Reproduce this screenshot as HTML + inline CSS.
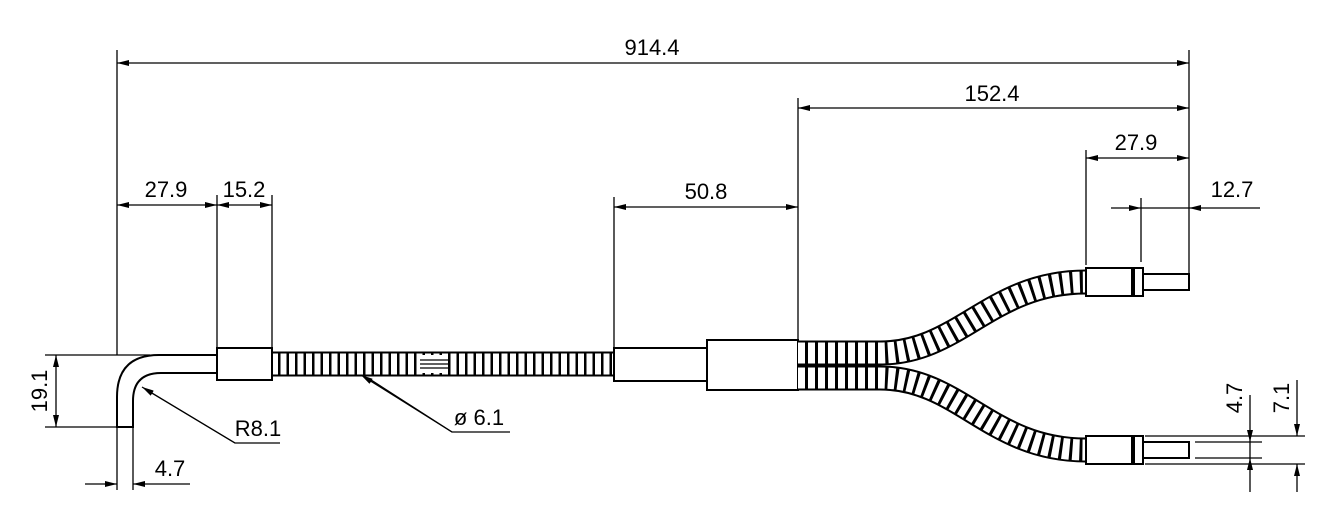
<!DOCTYPE html>
<html><head><meta charset="utf-8"><style>
html,body{margin:0;padding:0;background:#fff;}
svg{display:block;}
text{font-family:"Liberation Sans",sans-serif;font-size:22px;fill:#000;}
</style></head><body>
<svg width="1323" height="520" viewBox="0 0 1323 520" xmlns="http://www.w3.org/2000/svg">
<defs>
<marker id="a" viewBox="0 0 12 6" refX="12" refY="3" markerWidth="12" markerHeight="6" orient="auto" markerUnits="userSpaceOnUse"><path d="M0,0 L12,3 L0,6 z" fill="#000"/></marker>
</defs>
<g stroke="#000" stroke-width="1.3" fill="none">
<line x1="117" y1="50" x2="117" y2="355"/>
<line x1="1189" y1="50" x2="1189" y2="280"/>
<line x1="798" y1="98" x2="798" y2="340"/>
<line x1="1086" y1="150" x2="1086" y2="265"/>
<line x1="1141" y1="198" x2="1141" y2="262"/>
<line x1="217" y1="195" x2="217" y2="348"/>
<line x1="272" y1="195" x2="272" y2="348"/>
<line x1="614" y1="197" x2="614" y2="348"/>
<line x1="650" y1="63" x2="1189" y2="63" marker-end="url(#a)"/>
<line x1="650" y1="63" x2="117" y2="63" marker-end="url(#a)"/>
<line x1="990" y1="108" x2="1189" y2="108" marker-end="url(#a)"/>
<line x1="990" y1="108" x2="798" y2="108" marker-end="url(#a)"/>
<line x1="1136" y1="158" x2="1189" y2="158" marker-end="url(#a)"/>
<line x1="1136" y1="158" x2="1086" y2="158" marker-end="url(#a)"/>
<line x1="1111" y1="208" x2="1141" y2="208" marker-end="url(#a)"/>
<line x1="1260" y1="208" x2="1189" y2="208" marker-end="url(#a)"/>
<line x1="1141" y1="208" x2="1189" y2="208"/>
<line x1="167" y1="205" x2="117" y2="205" marker-end="url(#a)"/>
<line x1="167" y1="205" x2="217" y2="205" marker-end="url(#a)"/>
<line x1="245" y1="205" x2="217" y2="205" marker-end="url(#a)"/>
<line x1="245" y1="205" x2="272" y2="205" marker-end="url(#a)"/>
<line x1="706" y1="207" x2="798" y2="207" marker-end="url(#a)"/>
<line x1="706" y1="207" x2="614" y2="207" marker-end="url(#a)"/>
<line x1="45" y1="355" x2="150" y2="355"/>
<line x1="45" y1="427" x2="117" y2="427"/>
<line x1="56" y1="390" x2="56" y2="355" marker-end="url(#a)"/>
<line x1="56" y1="390" x2="56" y2="427" marker-end="url(#a)"/>
<line x1="117" y1="427" x2="117" y2="490"/>
<line x1="133" y1="427" x2="133" y2="490"/>
<line x1="85" y1="484" x2="117" y2="484" marker-end="url(#a)"/>
<line x1="190" y1="484" x2="133" y2="484" marker-end="url(#a)"/>
<polyline points="280,443 235,443 150,392"/>
<line x1="235" y1="443" x2="142" y2="387" marker-end="url(#a)"/>
<polyline points="510,432 452,432 368,378"/>
<line x1="452" y1="432" x2="361" y2="375" marker-end="url(#a)"/>
<line x1="1195" y1="442" x2="1262" y2="442"/>
<line x1="1195" y1="458" x2="1262" y2="458"/>
<line x1="1145" y1="436" x2="1305" y2="436"/>
<line x1="1145" y1="464" x2="1305" y2="464"/>
<line x1="1250" y1="395" x2="1250" y2="442" marker-end="url(#a)"/>
<line x1="1250" y1="492" x2="1250" y2="458" marker-end="url(#a)"/>
<line x1="1250" y1="442" x2="1250" y2="458"/>
<line x1="1297" y1="380" x2="1297" y2="436" marker-end="url(#a)"/>
<line x1="1297" y1="492" x2="1297" y2="464" marker-end="url(#a)"/>
</g>
<g stroke="#000" stroke-width="2" fill="#fff">
<path d="M117,427 L117,397 Q117,355 159,355 L217,355 L217,373 L161,373 Q133,373 133,401 L133,427 Z"/>
<line x1="272" y1="364" x2="614" y2="364" stroke-width="25" stroke="#000"/>
<line x1="272" y1="364" x2="614" y2="364" stroke-width="21" stroke="#fff" stroke-dasharray="6 2.5"/>
<rect x="422" y="355" width="26" height="18" fill="#fff" stroke="none"/>
<line x1="420" y1="360" x2="450" y2="360" stroke-width="1.3"/>
<line x1="420" y1="364" x2="450" y2="364" stroke-width="1.3"/>
<line x1="420" y1="368" x2="450" y2="368" stroke-width="1.3"/>
<rect x="217" y="348" width="55" height="32"/>
<rect x="614" y="348" width="93" height="33"/>
<rect x="707" y="340" width="91" height="50"/>
<path d="M798,378 L880,378 C960,378 990,450 1086,450" fill="none" stroke-width="25"/>
<path d="M798,378 L880,378 C960,378 990,450 1086,450" fill="none" stroke="#fff" stroke-width="21" stroke-dasharray="7 3"/>
<path d="M798,353 L880,353 C960,353 990,282 1086,282" fill="none" stroke-width="25"/>
<path d="M798,353 L880,353 C960,353 990,282 1086,282" fill="none" stroke="#fff" stroke-width="21" stroke-dasharray="7 3"/>
<rect x="1086" y="268" width="46" height="28"/>
<rect x="1134" y="268" width="9" height="28"/>
<rect x="1143" y="274" width="46" height="16"/>
<rect x="1086" y="436" width="46" height="28"/>
<rect x="1134" y="436" width="9" height="28"/>
<rect x="1143" y="442" width="46" height="16"/>
</g>
<text x="652" y="55" text-anchor="middle">914.4</text>
<text x="992" y="101" text-anchor="middle">152.4</text>
<text x="1136" y="150" text-anchor="middle">27.9</text>
<text x="1232" y="197" text-anchor="middle">12.7</text>
<text x="166" y="197" text-anchor="middle">27.9</text>
<text x="244" y="197" text-anchor="middle">15.2</text>
<text x="706" y="199" text-anchor="middle">50.8</text>
<text x="258" y="436" text-anchor="middle">R8.1</text>
<text x="479" y="425" text-anchor="middle">ø 6.1</text>
<text x="170" y="476" text-anchor="middle">4.7</text>
<text transform="translate(47,391) rotate(-90)" text-anchor="middle">19.1</text>
<text transform="translate(1242,398) rotate(-90)" text-anchor="middle">4.7</text>
<text transform="translate(1289,398) rotate(-90)" text-anchor="middle">7.1</text>
</svg>
</body></html>
